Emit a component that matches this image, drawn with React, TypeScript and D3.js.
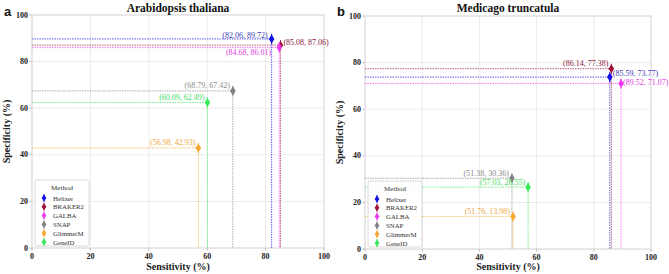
import { useEffect, useRef } from "react";
import * as d3 from "d3";

// ---- data ----
const methods = ["Helixer", "BRAKER2", "GALBA", "SNAP", "GlimmerM", "GeneID"];
const colors = ["#1010e8", "#a01038", "#f03cf0", "#808080", "#f8a830", "#38e858"];
const labelColors = ["#3a3ab8", "#8c1838", "#e040e0", "#8a8a8a", "#f0a840", "#40e060"];

const athSensitivity = [82.06, 85.08, 84.68, 68.79, 56.98, 60.09];
const athSpecificity = [89.72, 87.06, 86.01, 67.42, 42.93, 62.49];
const mtrSensitivity = [85.59, 86.14, 89.52, 51.38, 51.76, 57.03];
const mtrSpecificity = [73.77, 77.38, 71.07, 30.36, 13.98, 26.55];

const ticks = [0, 20, 40, 60, 80, 100];

// label placement per point: [anchor, dx, dy]
const athLabelPos: [string, number, number][] = [
  ["end", -4, -3], ["start", 3, -3], ["end", -8, 5], ["end", -3, -5], ["end", -3, -5], ["end", -3, -5],
];
const mtrLabelPos: [string, number, number][] = [
  ["start", 3, -4], ["end", -3, -5], ["start", 2, -1], ["end", -3, -5], ["end", -3, -5], ["end", -3, -5],
];

const panels = [
  { tag: "a", title: "Arabidopsis thaliana", sens: athSensitivity, spec: athSpecificity, pos: athLabelPos, left: 32, right: 324, top: 15, bottom: 248 },
  { tag: "b", title: "Medicago truncatula", sens: mtrSensitivity, spec: mtrSpecificity, pos: mtrLabelPos, left: 365, right: 651, top: 16, bottom: 249 },
];

const SERIF = "'Liberation Serif', 'DejaVu Serif', serif";

export default function App() {
  const svgRef = useRef<SVGSVGElement>(null);

  useEffect(() => {
    const svg = d3.select(svgRef.current);
    svg.selectAll("*").remove();

    panels.forEach((p) => {
      const x = d3.scaleLinear().domain([0, 100]).range([p.left, p.right]);
      const y = d3.scaleLinear().domain([0, 100]).range([p.bottom, p.top]);
      const g = svg.append("g");

      // grid
      ticks.forEach((t) => {
        g.append("line").attr("x1", x(t)).attr("x2", x(t)).attr("y1", p.top).attr("y2", p.bottom)
          .attr("stroke", "#e6e6e6").attr("stroke-width", 0.8);
        g.append("line").attr("x1", p.left).attr("x2", p.right).attr("y1", y(t)).attr("y2", y(t))
          .attr("stroke", "#e6e6e6").attr("stroke-width", 0.8);
        // small tick marks
        g.append("line").attr("x1", x(t)).attr("x2", x(t)).attr("y1", p.bottom).attr("y2", p.bottom + 2.5)
          .attr("stroke", "#999").attr("stroke-width", 0.7);
        g.append("line").attr("x1", p.left - 2.5).attr("x2", p.left).attr("y1", y(t)).attr("y2", y(t))
          .attr("stroke", "#999").attr("stroke-width", 0.7);
      });
      g.append("rect").attr("x", p.left).attr("y", p.top).attr("width", p.right - p.left)
        .attr("height", p.bottom - p.top).attr("fill", "none").attr("stroke", "#d4d4d4").attr("stroke-width", 0.8);

      // tick labels
      ticks.forEach((t) => {
        g.append("text").attr("x", x(t)).attr("y", p.bottom + 11).attr("text-anchor", "middle")
          .attr("font-family", SERIF).attr("font-weight", "bold").attr("font-size", 8).attr("fill", "#222").text(t);
        g.append("text").attr("x", p.left - 4).attr("y", y(t)).attr("text-anchor", "end")
          .attr("dominant-baseline", "central")
          .attr("font-family", SERIF).attr("font-weight", "bold").attr("font-size", 8).attr("fill", "#222").text(t);
      });

      // axis labels + title + tag
      g.append("text").attr("x", (p.left + p.right) / 2).attr("y", 270).attr("text-anchor", "middle")
        .attr("font-family", SERIF).attr("font-weight", "bold").attr("font-size", 10).attr("fill", "#222")
        .text("Sensitivity (%)");
      g.append("text").attr("transform", `translate(${p.left - 22},${(p.top + p.bottom) / 2}) rotate(-90)`)
        .attr("text-anchor", "middle").attr("font-family", SERIF).attr("font-weight", "bold")
        .attr("font-size", 10).attr("fill", "#222").text("Specificity (%)");
      g.append("text").attr("x", (p.left + p.right) / 2).attr("y", 12).attr("text-anchor", "middle")
        .attr("font-family", SERIF).attr("font-weight", "bold").attr("font-size", 11.5).attr("fill", "#111")
        .text(p.title);
      g.append("text").attr("x", p.left - 28).attr("y", 16)
        .attr("font-family", "'Liberation Sans', Arial, sans-serif").attr("font-weight", "bold")
        .attr("font-size", 13).attr("fill", "#111").text(p.tag);

      // guide lines
      methods.forEach((_m, i) => {
        const px = x(p.sens[i]);
        const py = y(p.spec[i]);
        g.append("line").attr("x1", p.left).attr("x2", px).attr("y1", py).attr("y2", py)
          .attr("stroke", colors[i]).attr("stroke-width", 0.9).attr("stroke-dasharray", "1.5,1")
          .attr("opacity", 0.75);
        g.append("line").attr("x1", px).attr("x2", px).attr("y1", py).attr("y2", p.bottom)
          .attr("stroke", colors[i]).attr("stroke-width", 0.9).attr("stroke-dasharray", "1.5,1")
          .attr("opacity", 0.75);
      });

      // markers + labels
      methods.forEach((_m, i) => {
        const px = x(p.sens[i]);
        const py = y(p.spec[i]);
        g.append("line").attr("x1", px).attr("x2", px).attr("y1", py - 5).attr("y2", py + 5)
          .attr("stroke", colors[i]).attr("stroke-width", 1);
        g.append("path").attr("d", "M0,-4.5L2.8,0L0,4.5L-2.8,0Z")
          .attr("transform", `translate(${px},${py})`).attr("fill", colors[i]);
        const [anchor, dx, dy] = p.pos[i];
        g.append("text").attr("x", px + dx).attr("y", py + dy).attr("text-anchor", anchor)
          .attr("dominant-baseline", "central").attr("font-family", SERIF).attr("font-size", 8)
          .attr("fill", labelColors[i])
          .text(`(${p.sens[i].toFixed(2)}, ${p.spec[i].toFixed(2)})`);
      });

      // legend
      const lg = g.append("g").attr("transform", `translate(${p.left + 3},${p.bottom - 68})`);
      lg.append("rect").attr("width", 54).attr("height", 66).attr("rx", 2)
        .attr("fill", "white").attr("fill-opacity", 0.85).attr("stroke", "#d0d0d0").attr("stroke-width", 0.8);
      lg.append("text").attr("x", 27).attr("y", 8).attr("text-anchor", "middle").attr("dominant-baseline", "central")
        .attr("font-family", SERIF).attr("font-size", 7).attr("fill", "#333").text("Method");
      methods.forEach((m, i) => {
        const ry = 18 + i * 8.8;
        lg.append("line").attr("x1", 9).attr("x2", 9).attr("y1", ry - 4).attr("y2", ry + 4)
          .attr("stroke", colors[i]).attr("stroke-width", 1);
        lg.append("path").attr("d", "M0,-3.5L2.4,0L0,3.5L-2.4,0Z")
          .attr("transform", `translate(9,${ry})`).attr("fill", colors[i]);
        lg.append("text").attr("x", 18).attr("y", ry).attr("dominant-baseline", "central")
          .attr("font-family", SERIF).attr("font-size", 6.8).attr("fill", "#333").text(m);
      });
    });
  }, []);

  return (
    <div style={{ position: "absolute", left: 0, top: 0 }}>
      <svg ref={svgRef} width={669} height={274} style={{ display: "block", background: "white" }} />
    </div>
  );
}
